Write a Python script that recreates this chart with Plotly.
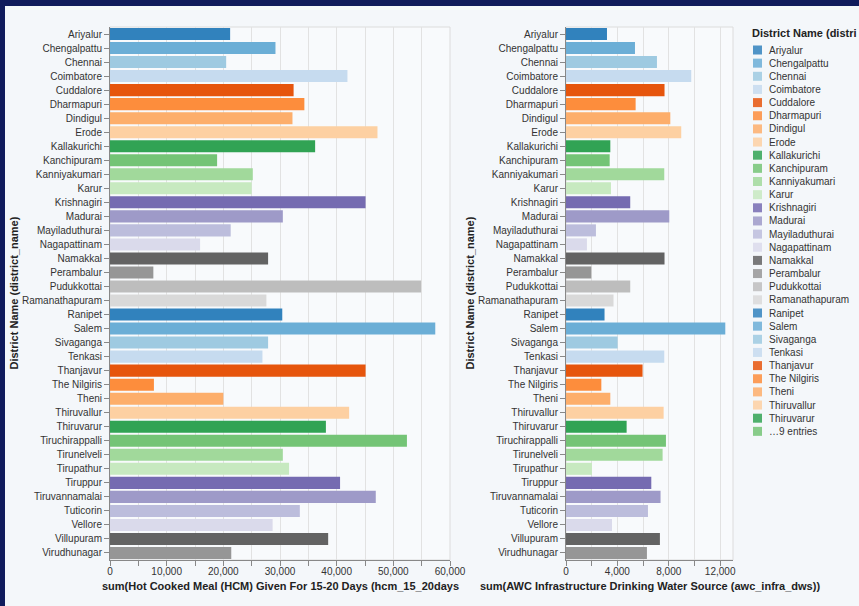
import plotly.graph_objects as go

# district order as shown on the y axis (top to bottom)
districts = [
    "Ariyalur", "Chengalpattu", "Chennai", "Coimbatore", "Cuddalore", "Dharmapuri",
    "Dindigul", "Erode", "Kallakurichi", "Kanchipuram", "Kanniyakumari", "Karur",
    "Krishnagiri", "Madurai", "Mayiladuthurai", "Nagapattinam", "Namakkal", "Perambalur",
    "Pudukkottai", "Ramanathapuram", "Ranipet", "Salem", "Sivaganga", "Tenkasi",
    "Thanjavur", "The Nilgiris", "Theni", "Thiruvallur", "Thiruvarur", "Tiruchirappalli",
    "Tirunelveli", "Tirupathur", "Tiruppur", "Tiruvannamalai", "Tuticorin", "Vellore",
    "Villupuram", "Virudhunagar",
]

# sum of hcm_15_20days per district
hcm_15_20days = [
    21200, 29200, 20500, 41900, 32400, 34300,
    32200, 47200, 36200, 18900, 25200, 25000,
    45100, 30500, 21300, 15900, 27900, 7650,
    54900, 27600, 30400, 57400, 27900, 26900,
    45100, 7750, 20000, 42200, 38100, 52400,
    30500, 31600, 40600, 46900, 33500, 28700,
    38500, 21400,
]

# sum of awc_infra_dws per district
awc_infra_dws = [
    3190, 5370, 7080, 9750, 7670, 5420,
    8120, 8970, 3450, 3400, 7650, 3500,
    5000, 8040, 2330, 1630, 7670, 1970,
    5000, 3700, 3000, 12400, 4020, 7650,
    5960, 2750, 3450, 7600, 4720, 7780,
    7520, 2020, 6640, 7360, 6380, 3580,
    7310, 6300,
]

# category20c scheme
palette = [
    "#3182bd", "#6baed6", "#9ecae1", "#c6dbef",
    "#e6550d", "#fd8d3c", "#fdae6b", "#fdd0a2",
    "#31a354", "#74c476", "#a1d99b", "#c7e9c0",
    "#756bb1", "#9e9ac8", "#bcbddc", "#dadaeb",
    "#636363", "#969696", "#bdbdbd", "#d9d9d9",
]
colors = [palette[i % len(palette)] for i in range(len(districts))]

W, H = 859, 606
FONT = "Liberation Sans, Arial, sans-serif"


def fx(x):
    return x / W


def fy(y):
    return 1 - y / H


PLOT_TOP, PLOT_BOT = 27, 560

fig = go.Figure()
fig.add_trace(go.Bar(x=hcm_15_20days, y=districts, orientation="h",
                     marker=dict(color=colors, line=dict(width=0)),
                     xaxis="x", yaxis="y", showlegend=False))
fig.add_trace(go.Bar(x=awc_infra_dws, y=districts, orientation="h",
                     marker=dict(color=colors, line=dict(width=0)),
                     xaxis="x2", yaxis="y2", showlegend=False))

tick_style = dict(ticks="outside", ticklen=5, tickcolor="#888", showline=True,
                  linecolor="#888", zeroline=False,
                  tickfont=dict(family=FONT, size=10, color="#333"))
grid = dict(showgrid=True, gridcolor="#e2e2e2", gridwidth=1)

fig.update_layout(
    width=W, height=H,
    margin=dict(l=0, r=0, t=0, b=0),
    paper_bgcolor="#f4f7fa",
    plot_bgcolor="#f8fafc",
    bargap=0.14,
    xaxis=dict(domain=[fx(110), fx(450)], range=[0, 60000], anchor="y",
               dtick=10000, tick0=0, tickformat=",", automargin=False,
               ticklabelstandoff=-3,
               minor=dict(dtick=5000, showgrid=True, gridcolor="#e2e2e2",
                          ticks="outside", ticklen=5, tickcolor="#888"),
               **grid, **tick_style),
    yaxis=dict(domain=[fy(PLOT_BOT), fy(PLOT_TOP)], anchor="x",
               categoryorder="array", categoryarray=districts,
               autorange="reversed", automargin=False, showgrid=False,
               **tick_style),
    xaxis2=dict(domain=[fx(566), fx(733)], range=[0, 13000], anchor="y2",
                dtick=4000, tick0=0, tickformat=",", automargin=False,
                ticklabelstandoff=-3,
                minor=dict(dtick=2000, showgrid=True, gridcolor="#e2e2e2",
                           ticks="outside", ticklen=5, tickcolor="#888"),
                **grid, **tick_style),
    yaxis2=dict(domain=[fy(PLOT_BOT), fy(PLOT_TOP)], anchor="x2",
                categoryorder="array", categoryarray=districts,
                autorange="reversed", automargin=False, showgrid=False,
                **tick_style),
)

shapes = []
# view borders
for xr, yr in (("x domain", "y domain"), ("x2 domain", "y2 domain")):
    shapes.append(dict(type="rect", xref=xr, yref=yr, x0=0, x1=1, y0=0, y1=1,
                       line=dict(color="#dcdcdc", width=1), layer="below"))
# navy frame at top and left
shapes.append(dict(type="rect", xref="paper", yref="paper", x0=0, x1=1,
                   y0=fy(6), y1=1, fillcolor="#101b5c", line=dict(width=0)))
shapes.append(dict(type="rect", xref="paper", yref="paper", x0=0, x1=fx(5),
                   y0=0, y1=1, fillcolor="#101b5c", line=dict(width=0)))

annotations = []
title_font = dict(family=FONT, size=11, color="#222", weight="bold")
mid_y = fy((PLOT_TOP + PLOT_BOT) / 2)
for xpix in (13, 469):
    annotations.append(dict(text="District Name (district_name)", xref="paper", yref="paper",
                            x=fx(xpix), y=mid_y, textangle=-90, showarrow=False,
                            xanchor="center", yanchor="middle", font=title_font))
annotations.append(dict(text="sum(Hot Cooked Meal (HCM) Given For 15-20 Days (hcm_15_20days",
                        xref="paper", yref="paper", x=fx(280), y=fy(586), showarrow=False,
                        xanchor="center", yanchor="middle", font=title_font))
annotations.append(dict(text="sum(AWC Infrastructure Drinking Water Source (awc_infra_dws))",
                        xref="paper", yref="paper", x=fx(650), y=fy(586), showarrow=False,
                        xanchor="center", yanchor="middle", font=title_font))

# legend, drawn by hand so it can be as compact as the original
# (its title runs off the picture edge in the original)
annotations.append(dict(text="District Name (distri", xref="paper", yref="paper",
                        x=fx(750), y=fy(33), showarrow=False, xanchor="left",
                        yanchor="middle", font=title_font))
n_shown = 29
legend_labels = districts[:n_shown] + ["…%d entries" % (len(districts) - n_shown)]
legend_colors = colors[:n_shown + 1]
for i, (lab, col) in enumerate(zip(legend_labels, legend_colors)):
    yc = 50 + 13.15 * i
    shapes.append(dict(type="rect", xref="paper", yref="paper", x0=fx(753), x1=fx(762),
                       y0=fy(yc + 4.5), y1=fy(yc - 4.5), fillcolor=col, opacity=0.85,
                       line=dict(width=0)))
    annotations.append(dict(text=lab, xref="paper", yref="paper", x=fx(767), y=fy(yc),
                            showarrow=False, xanchor="left", yanchor="middle",
                            font=dict(family=FONT, size=10, color="#333")))

fig.update_layout(shapes=shapes, annotations=annotations)

fig.write_html("out.html", config={"displayModeBar": False},
               post_script="document.body.style.margin='0';")
